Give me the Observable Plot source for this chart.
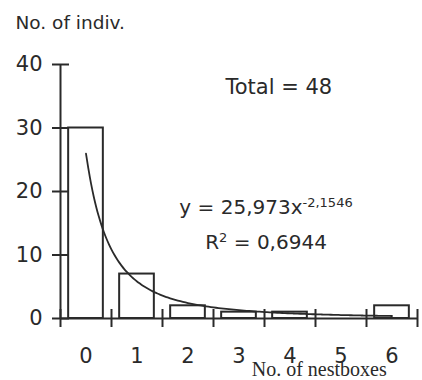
<!DOCTYPE html>
<html>
<head>
<meta charset="utf-8">
<script src="https://cdn.jsdelivr.net/npm/d3@7"></script>
<script src="https://cdn.jsdelivr.net/npm/@observablehq/plot@0.6"></script>
<style>
  html, body { margin: 0; padding: 0; background: #fff; }
</style>
</head>
<body>
<div id="chart"></div>
<script>
// ---- data ----
const categories = [0, 1, 2, 3, 4, 5, 6];          // No. of nestboxes
const counts     = [30, 7, 2, 1, 1, 0, 2];          // No. of indiv.
const yTicks     = [0, 10, 20, 30, 40];
const xTickLabels = ["0", "1", "2", "3", "4", "5", "6"];
// power trendline shown on the chart: y = a * x^b (x = 1..7 in Excel order)
const trendA = 25.973;
const trendB = -2.1546;
const totalLabel = "Total = 48";
const eqLabel = "y = 25,973x<sup>-2,1546</sup>";
const r2Label = "R<sup>2</sup> = 0,6944";
const yTitle = "No. of indiv.";
const xTitle = "No. of nestboxes";

const bars = categories.map((c, i) => ({cat: c, n: counts[i]}));
const bounds = d3.range(categories.length + 1).map(i => i - 0.5);
const trend = d3.range(0, 6.001, 0.05).map(t => ({x: t, y: trendA * Math.pow(t + 1, trendB)}));

const ink = "#2a2a2a";
const sans = "DejaVu Sans, Verdana, sans-serif";
const half = 0.34;

const plot = Plot.plot({
  width: 422,
  height: 380,
  marginLeft: 60,
  marginRight: 5,
  marginTop: 64,
  marginBottom: 62,
  x: {domain: [-0.5, 6.5], axis: null},
  y: {domain: [0, 40], axis: null},
  style: {fontFamily: sans, color: ink, background: "#fff"},
  marks: [
    Plot.rect(bars, {x1: d => d.cat - half, x2: d => d.cat + half, y1: 0, y2: "n",
      fill: "#fff", stroke: ink, strokeWidth: 2}),
    Plot.line(trend, {x: "x", y: "y", stroke: ink, strokeWidth: 1.8, curve: "basis"}),
    // axes lines
    Plot.ruleX([-0.5], {y1: 0, y2: 40, stroke: ink, strokeWidth: 2}),
    Plot.ruleY([0], {x1: -0.5, x2: 6.5, stroke: ink, strokeWidth: 2}),
    // y tick marks crossing the axis
    Plot.ruleY(yTicks, {y: d => d, x1: -0.5, x2: -0.5, insetLeft: -8, insetRight: -9, stroke: ink, strokeWidth: 2}),
    // x tick marks at category boundaries crossing the axis
    Plot.ruleX(bounds, {x: d => d, y1: 0, y2: 0, insetTop: -9, insetBottom: -9, stroke: ink, strokeWidth: 2}),
    // tick labels
    Plot.text(yTicks, {x: -0.5, y: d => d, text: d => String(d), dx: -18, textAnchor: "end",
      lineAnchor: "middle", fontSize: 21, fill: ink}),
    Plot.text(categories, {x: d => d, y: 0, text: (d, i) => xTickLabels[i], dy: 44,
      lineAnchor: "bottom", fontSize: 21, fill: ink}),
    // titles
    Plot.text([yTitle], {x: -0.5, y: 40, text: d => d, dx: -45, dy: -36, textAnchor: "start",
      lineAnchor: "bottom", fontSize: 18.5, fill: ink}),
    Plot.text([xTitle], {x: 3.25, y: 0, text: d => d, dy: 57, textAnchor: "start",
      lineAnchor: "bottom", fontSize: 20, fontFamily: "Liberation Serif, Times New Roman, serif", fill: ink}),
    // annotations
    Plot.text([totalLabel], {x: 3.78, y: 35.4, text: d => d, lineAnchor: "bottom", fontSize: 21, fill: ink}),
    Plot.text([eqLabel], {x: 3.53, y: 16.4, text: d => d, lineAnchor: "bottom", fontSize: 20, fill: ink, className: "sup"}),
    Plot.text([r2Label], {x: 3.53, y: 11.0, text: d => d, lineAnchor: "bottom", fontSize: 20, fill: ink, className: "sup"})
  ]
});

// turn <sup>..</sup> into superscript tspans
const shift = 7;
d3.select(plot).selectAll("g.sup text").each(function() {
  const raw = this.textContent;
  const parts = raw.split(/(<sup>.*?<\/sup>)/).filter(s => s.length);
  const el = d3.select(this);
  el.text(null);
  let raised = false;
  for (const p of parts) {
    const m = p.match(/^<sup>(.*)<\/sup>$/);
    if (m) {
      el.append("tspan").attr("dy", -shift).attr("font-size", "13px").text(m[1]);
      raised = true;
    } else {
      const t = el.append("tspan").text(p);
      if (raised) { t.attr("dy", shift); raised = false; }
    }
  }
});

document.getElementById("chart").appendChild(plot);
</script>
</body>
</html>
